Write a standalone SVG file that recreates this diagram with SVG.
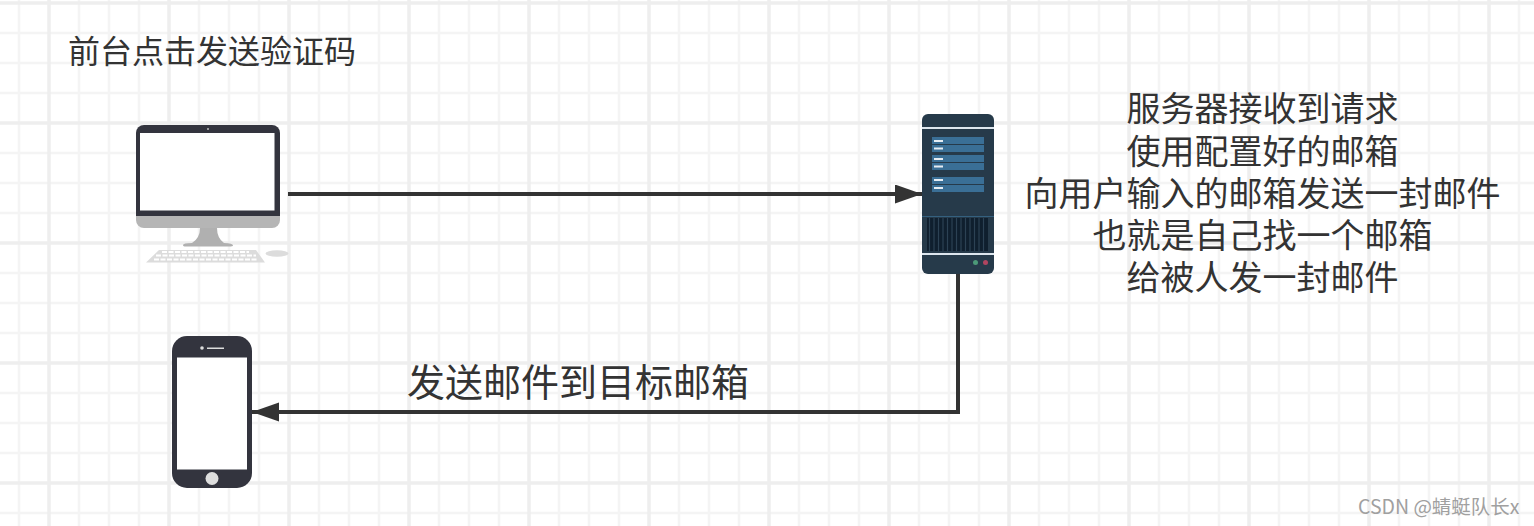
<svg xmlns="http://www.w3.org/2000/svg" width="1534" height="526" viewBox="0 0 1534 526">
<defs>
<pattern id="g" width="120" height="120" patternUnits="userSpaceOnUse" x="49" y="3">
<path d="M30 0V120M60 0V120M90 0V120M0 30H120M0 60H120M0 90H120" stroke="#f4f4f4" stroke-width="2.500" fill="none"/>
<path d="M0 0V120M120 0V120M0 0H120M0 120H120" stroke="#eeeeee" stroke-width="3.500" fill="none"/>
</pattern>
<marker id="a" markerUnits="userSpaceOnUse" markerWidth="28" markerHeight="20" refX="27" refY="9.500" orient="auto"><path d="M0 0L27 9.500L0 19Z" fill="#333"/></marker>
</defs>
<style>
text{font-family:"Noto Sans CJK SC","Liberation Sans",sans-serif;fill:#333}
.l{stroke:#333;stroke-width:4;fill:none}
.m{font-size:34px;text-anchor:middle}
.b{fill:#3a6f96}.w{fill:#e6edf3}
</style>
<rect width="1534" height="526" fill="#fff"/>
<rect width="1534" height="526" fill="url(#g)"/>
<g id="connectors">
<path class="l" d="M288 194H922" marker-end="url(#a)"/>
<path class="l" d="M958 274V412H252" marker-end="url(#a)"/>
</g>
<g id="computer">
<path d="M136 133a8 8 0 0 1 8-8H272a8 8 0 0 1 8 8V216H136Z" fill="#33343e"/>
<path d="M136 216H280V220a8 8 0 0 1-8 8H144a8 8 0 0 1-8-8Z" fill="#b5b5b5"/>
<rect x="140" y="133" width="134.500" height="77.500" fill="#fff"/>
<circle cx="208" cy="129" r="1" fill="#bbb"/>
<path d="M200 228H217Q217 238 224 243Q233 243 233 245.500Q233 246.500 229 246.500H186Q183 246.500 183 245Q183 243 192 243Q200 238 200 228Z" fill="#b0b0b0"/>
<path d="M159 250H256L265 262.500H146Z" fill="#dcdcdc"/>
<path d="M162 252H249M156 255.500H256M154 259.500H258" stroke="#fff" stroke-width="2" stroke-dasharray="5 1.500"/>
<ellipse cx="277" cy="253.500" rx="11.500" ry="3.200" fill="#dcdcdc"/>
</g>
<g id="server">
<rect x="922" y="114" width="72" height="160" rx="6" fill="#263a4a"/>
<rect x="922" y="127" width="72" height="2" fill="#dde6ee"/>
<rect class="b" x="932" y="137" width="52" height="7"/><rect class="b" x="932" y="145" width="52" height="7"/>
<rect class="b" x="932" y="155" width="52" height="7"/><rect class="b" x="932" y="163" width="52" height="7"/>
<rect class="b" x="932" y="177" width="52" height="7"/><rect class="b" x="932" y="185" width="52" height="7"/>
<rect class="w" x="934" y="140" width="9" height="2"/><rect class="w" x="934" y="147.500" width="9" height="2"/>
<rect class="w" x="934" y="158" width="9" height="2"/><rect class="w" x="934" y="165.500" width="9" height="2"/>
<rect class="w" x="934" y="179" width="9" height="2"/><rect class="w" x="934" y="187" width="9" height="2"/>
<rect x="922" y="216" width="72" height="1" fill="#34607f"/>
<rect x="927" y="218" width="61" height="33" fill="#0f1f2e"/>
<path d="M929.500 218V251M934 218V251M938.500 218V251M943 218V251M947.500 218V251M952 218V251M956.500 218V251M961 218V251M965.500 218V251M970 218V251M974.500 218V251M979 218V251M983.500 218V251" stroke="#2c4254" stroke-width="1.200"/>
<rect x="922" y="253" width="72" height="2" fill="#dde6ee"/>
<circle cx="975.500" cy="262.500" r="2.500" fill="#4c9a78"/>
<circle cx="985.500" cy="262.500" r="2.500" fill="#b04560"/>
</g>
<g id="phone">
<rect x="172" y="336" width="80" height="152" rx="15" fill="#33343e"/>
<rect x="177" y="357.500" width="70" height="112" fill="#fff"/>
<circle cx="202" cy="348" r="1.800" fill="#ddd"/>
<rect x="207" y="347.500" width="17" height="1.500" fill="#ddd"/>
<circle cx="212" cy="478.500" r="6.500" fill="#dedede"/>
</g>
<g id="labels">
<text x="68" y="63" font-size="32">前台点击发送验证码</text>
<text class="m" x="1262.500" y="121">服务器接收到请求</text>
<text class="m" x="1262.500" y="164">使用配置好的邮箱</text>
<text class="m" x="1262.500" y="206">向用户输入的邮箱发送一封邮件</text>
<text class="m" x="1262.500" y="248">也就是自己找一个邮箱</text>
<text class="m" x="1262.500" y="290">给被人发一封邮件</text>
<text x="407" y="396" font-size="38">发送邮件到目标邮箱</text>
<text x="1358" y="514" style="fill:#a0a0a0;font-size:19.500px">CSDN @蜻蜓队长x</text>
</g>
</svg>
